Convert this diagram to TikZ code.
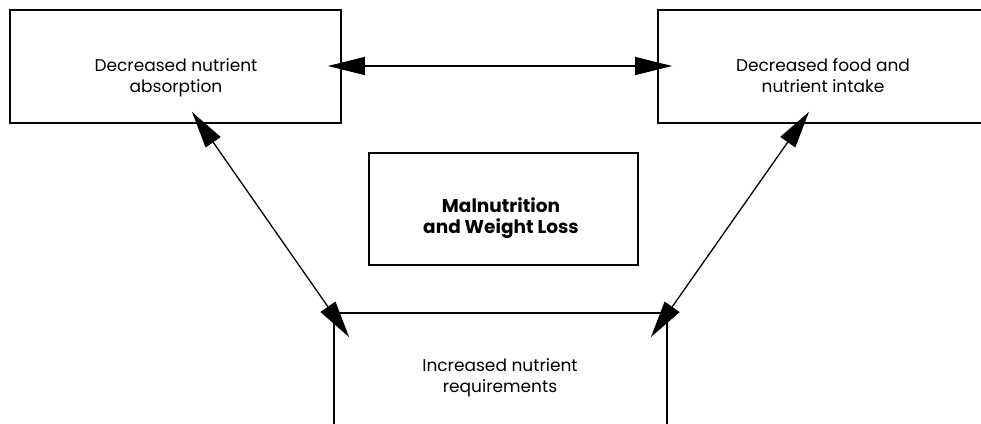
\documentclass[tikz,border=0pt]{standalone}
\usepackage{fontspec}
\setmainfont{Poppins}
\usetikzlibrary{arrows.meta,calc}
\begin{document}
\begin{tikzpicture}[x=1pt,y=-1pt,
  box/.style={draw=black,line width=1.8pt,rectangle,inner sep=0pt},
  lab/.style={align=center,inner sep=0pt,font=\fontsize{17}{21}\selectfont},
  blab/.style={align=center,inner sep=0pt,font=\fontsize{18.5}{21}\selectfont\bfseries},
  link/.style={line width=1.3pt,{Triangle[length=37pt,width=18pt]}-{Triangle[length=37pt,width=18pt]}}]
\useasboundingbox (0,0) rectangle (981,423);
\clip (0,0) rectangle (981,423);
\node[box,minimum width=331pt,minimum height=113pt] (absorb) at (175.5,66.5) {};
\node[box,minimum width=331pt,minimum height=113pt] (intake) at (823.5,66.5) {};
\node[box,minimum width=269pt,minimum height=112pt] (mal) at (503.5,209) {};
\node[box,minimum width=333pt,minimum height=140pt] (req) at (500.5,383) {};
\node[lab] (absorbt) at (176,78) {Decreased nutrient\\absorption};
\node[lab] (intaket) at (823,76) {Decreased food and\\nutrient intake};
\node[blab] (malt) at (501,218) {Malnutrition\\and Weight Loss};
\node[lab] (reqt) at (500,378) {Increased nutrient\\requirements};
\coordinate (h1) at ($(absorb.east)+(-14,-0.5)$);
\coordinate (h2) at ($(intake.west)+(15,-0.5)$);
\coordinate (l1) at ($(absorb.south)+(16.5,-12)$);
\coordinate (l2) at ($(req.north west)+(16,25)$);
\coordinate (r1) at ($(intake.south)+(-14.5,-12)$);
\coordinate (r2) at ($(req.north east)+(-17,25)$);
\draw[link] (h1) -- (h2);
\draw[link] (l1) -- (l2);
\draw[link] (r1) -- (r2);
\end{tikzpicture}
\end{document}
